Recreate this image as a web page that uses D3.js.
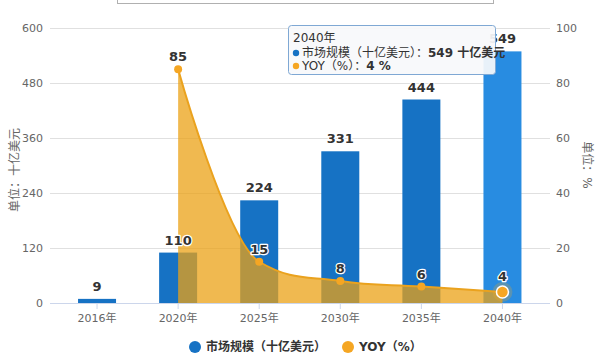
<!DOCTYPE html>
<html><head><meta charset="utf-8">
<script src="https://cdn.jsdelivr.net/npm/d3@7"></script>
<style>
body{margin:0;background:#fff;}
svg{display:block;font-family:"DejaVu Sans","Noto Sans CJK SC",sans-serif;}
</style></head>
<body><svg id="c" width="600" height="357"></svg>
<script>
const categories = ["2016年","2020年","2025年","2030年","2035年","2040年"];
const marketSize = [9,110,224,331,444,549];
const yoy = [null,85,15,8,6,4];
const leftTicks = [0,120,240,360,480,600];
const rightTicks = [0,20,40,60,80,100];
const seriesNames = ["市场规模（十亿美元）","YOY（%）"];
const leftTitle = "单位：十亿美元";
const rightTitle = "单位：%";
const hoverIndex = 5;

const svg = d3.select("#c");
const x = d3.scaleBand().domain(categories).range([56.5,543]).padding(0);
const cx = d => x(d) + x.bandwidth()/2;
const yL = d3.scaleLinear().domain([0,600]).range([303,28]);
const yR = d3.scaleLinear().domain([0,100]).range([303,28]);
const barW = 38;

// spline path (Highcharts-style smoothing) built from scaled points
function splinePath(p){
  const s = 1.5, den = s + 1;
  let d = `M${p[0][0]},${p[0][1]}`;
  let lastRC = null;
  for(let i=1;i<p.length;i++){
    const [px,py] = p[i], last = p[i-1], next = p[i+1];
    let lcx = px, lcy = py, rc = null;
    if(next){
      lcx = (s*px + last[0])/den; lcy = (s*py + last[1])/den;
      let rcx = (s*px + next[0])/den, rcy = (s*py + next[1])/den;
      const corr = ((rcy-lcy)*(rcx-px))/(rcx-lcx) + py - rcy;
      lcy += corr; rcy += corr;
      if(lcy > last[1] && lcy > py){ lcy = Math.max(last[1],py); rcy = 2*py - lcy; }
      else if(lcy < last[1] && lcy < py){ lcy = Math.min(last[1],py); rcy = 2*py - lcy; }
      if(rcy > next[1] && rcy > py){ rcy = Math.max(next[1],py); lcy = 2*py - rcy; }
      else if(rcy < next[1] && rcy < py){ rcy = Math.min(next[1],py); lcy = 2*py - rcy; }
      rc = [rcx,rcy];
    }
    const c1 = lastRC || last;
    d += `C${c1[0]},${c1[1]} ${lcx},${lcy} ${px},${py}`;
    lastRC = rc;
  }
  return d;
}

// top box remnant
svg.append("rect").attr("x",117.5).attr("y",-20).attr("width",376).attr("height",23.5)
  .attr("fill","#fff").attr("stroke","#b0b0b0");

// grid
svg.append("g").selectAll("line").data(leftTicks).join("line")
  .attr("x1",50).attr("x2",550).attr("y1",d=>Math.round(yL(d))+0.5).attr("y2",d=>Math.round(yL(d))+0.5)
  .attr("stroke","#e0e0e0");

// tick labels
svg.append("g").selectAll("text").data(leftTicks).join("text")
  .attr("x",43).attr("y",d=>yL(d)+4).attr("text-anchor","end")
  .attr("font-size",11).attr("fill","#666").text(d=>d);
svg.append("g").selectAll("text").data(rightTicks).join("text")
  .attr("x",556).attr("y",d=>yR(d)+4).attr("text-anchor","start")
  .attr("font-size",11).attr("fill","#666").text(d=>d);

// axis titles
svg.append("text").attr("transform","translate(19,170) rotate(-90)").attr("text-anchor","middle")
  .attr("font-size",12).attr("fill","#666").text(leftTitle);
svg.append("text").attr("transform","translate(583,165) rotate(90)").attr("text-anchor","middle")
  .attr("font-size",12).attr("fill","#666").text(rightTitle);

// bars
svg.append("g").selectAll("rect").data(categories).join("rect")
  .attr("x",d=>cx(d)-barW/2).attr("width",barW)
  .attr("y",(d,i)=>yL(marketSize[i])).attr("height",(d,i)=>yL(0)-yL(marketSize[i]))
  .attr("fill",(d,i)=>i===hoverIndex?"#288ce1":"#1672c4");

// area
const pts = categories.map((c,i)=>({c,v:yoy[i]})).filter(d=>d.v!==null);
const xy = pts.map(d=>[cx(d.c), yR(d.v)]);
const topPath = splinePath(xy);
const areaPath = topPath + `L${xy[xy.length-1][0]},${yR(0)}L${xy[0][0]},${yR(0)}Z`;
svg.append("path").attr("d",areaPath).attr("fill","#eba216").attr("fill-opacity",0.75);
svg.append("path").attr("d",topPath).attr("fill","none").attr("stroke","#eaa21e").attr("stroke-width",2);

// x axis
svg.append("line").attr("x1",50).attr("x2",550).attr("y1",303.5).attr("y2",303.5).attr("stroke","#ccd6eb");
svg.append("g").selectAll("line").data(categories).join("line")
  .attr("x1",d=>cx(d)).attr("x2",d=>cx(d)).attr("y1",303).attr("y2",309).attr("stroke","#ccd6eb");
svg.append("g").selectAll("text").data(categories).join("text")
  .attr("x",d=>cx(d)).attr("y",322).attr("text-anchor","middle")
  .attr("font-size",11).attr("fill","#666").text(d=>d);

// markers
const mk = svg.append("g");
pts.forEach(d=>{
  const i = categories.indexOf(d.c);
  if(i===hoverIndex){
    mk.append("circle").attr("cx",cx(d.c)).attr("cy",yR(d.v)).attr("r",10).attr("fill","#f5a623").attr("fill-opacity",0.25);
    mk.append("circle").attr("cx",cx(d.c)).attr("cy",yR(d.v)).attr("r",6).attr("fill","#f5a623").attr("stroke","#fff").attr("stroke-width",1.5);
  } else {
    mk.append("circle").attr("cx",cx(d.c)).attr("cy",yR(d.v)).attr("r",4).attr("fill","#f5a623");
  }
});

// data labels
const lab = svg.append("g").attr("font-size",13).attr("font-weight","bold").attr("text-anchor","middle")
  .attr("fill","#333").attr("stroke","#fff").attr("stroke-width",2.5).attr("paint-order","stroke").attr("stroke-linejoin","round");
categories.forEach((c,i)=>{
  lab.append("text").attr("x",cx(c)).attr("y",yL(marketSize[i])-8).text(marketSize[i]);
});
pts.forEach(d=>{
  lab.append("text").attr("x",cx(d.c)).attr("y",yR(d.v)-(categories.indexOf(d.c)===hoverIndex?11:8)).text(d.v);
});

// tooltip
const tt = svg.append("g");
tt.append("rect").attr("x",288.5).attr("y",25.5).attr("width",207).attr("height",49).attr("rx",3)
  .attr("fill","#f8f9fb").attr("fill-opacity",0.93).attr("stroke","#7fa8d4");
tt.append("text").attr("x",293).attr("y",42).attr("font-size",12).attr("fill","#333").text(categories[hoverIndex]);
tt.append("circle").attr("cx",296).attr("cy",53).attr("r",3.2).attr("fill","#1672c4");
const t1 = tt.append("text").attr("x",302).attr("y",57).attr("font-size",12).attr("fill","#333");
t1.append("tspan").text(seriesNames[0]+"：");
t1.append("tspan").attr("font-weight","bold").text(marketSize[hoverIndex]+" 十亿美元");
tt.append("circle").attr("cx",296).attr("cy",66).attr("r",3.2).attr("fill","#f5a623");
const t2 = tt.append("text").attr("x",302).attr("y",70).attr("font-size",12).attr("fill","#333");
t2.append("tspan").text(seriesNames[1]+"：");
t2.append("tspan").attr("font-weight","bold").text(yoy[hoverIndex]+" %");

// legend
const lg = svg.append("g").attr("font-size",12).attr("font-weight","bold").attr("fill","#333");
lg.append("circle").attr("cx",195).attr("cy",347).attr("r",6).attr("fill","#1672c4");
lg.append("text").attr("x",206).attr("y",351).text(seriesNames[0]);
lg.append("circle").attr("cx",348).attr("cy",347).attr("r",6).attr("fill","#f5a623");
lg.append("text").attr("x",359).attr("y",351).text(seriesNames[1]);
</script></body></html>
